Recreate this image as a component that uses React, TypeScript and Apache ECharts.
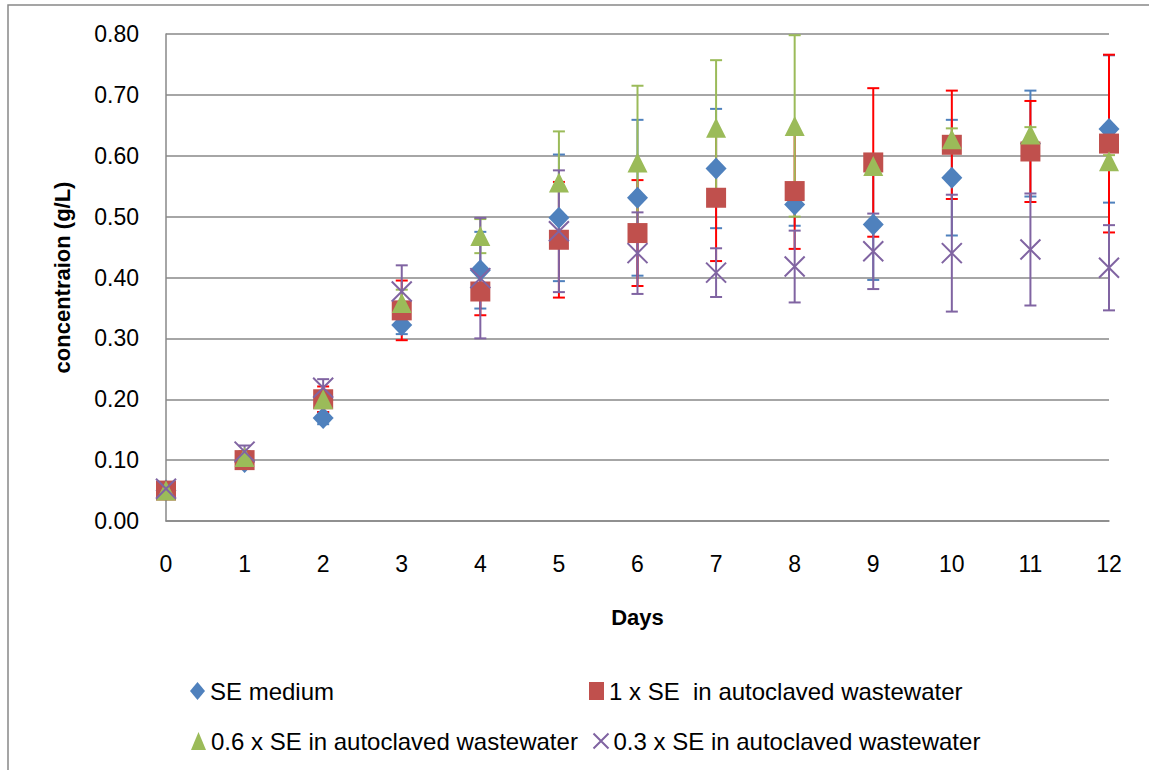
import React, { useEffect, useRef } from "react";
import * as echarts from "echarts";

const days = [0, 1, 2, 3, 4, 5, 6, 7, 8, 9, 10, 11, 12];
const yTicks = [0, 0.1, 0.2, 0.3, 0.4, 0.5, 0.6, 0.7, 0.8];

const seriesNames = [
  "SE medium",
  "1 x SE  in autoclaved wastewater",
  "0.6 x SE in autoclaved wastewater",
  "0.3 x SE in autoclaved wastewater",
];

const seMedium = [0.05, 0.097, 0.169, 0.322, 0.412, 0.498, 0.531, 0.579, 0.52, 0.487, 0.564, 0.62, 0.644];
const seMediumErr = [0.005, 0.01, 0.01, 0.015, 0.063, 0.104, 0.128, 0.098, 0.035, 0.091, 0.095, 0.087, 0.121];

const se1x = [0.05, 0.1, 0.2, 0.346, 0.377, 0.462, 0.473, 0.531, 0.542, 0.589, 0.618, 0.607, 0.62];
const se1xErr = [0.005, 0.01, 0.021, 0.049, 0.039, 0.095, 0.087, 0.104, 0.095, 0.122, 0.089, 0.083, 0.146];

const se06x = [0.05, 0.105, 0.2, 0.358, 0.468, 0.556, 0.589, 0.646, 0.649, 0.583, 0.627, 0.635, 0.591];
const se06xErr = [0.005, 0.01, 0.01, 0.022, 0.028, 0.084, 0.126, 0.111, 0.149, 0.01, 0.018, 0.012, 0.01];

const se03x = [0.053, 0.114, 0.219, 0.377, 0.399, 0.476, 0.44, 0.408, 0.418, 0.443, 0.44, 0.446, 0.416];
const se03xErr = [0.005, 0.01, 0.014, 0.043, 0.099, 0.1, 0.067, 0.04, 0.059, 0.062, 0.096, 0.092, 0.07];

const values = [seMedium, se1x, se06x, se03x];
const errors = [seMediumErr, se1xErr, se06xErr, se03xErr];
const markerColors = ["#4F81BD", "#C0504D", "#9BBB59", "#8064A2"];
const errColors = ["#4F81BD", "#FF0000", "#9BBB59", "#8064A2"];
const FONT = "Liberation Sans";
const CROSS = "path://M0,0L10,10M10,0L0,10";

export default function App() {
  const ref = useRef<HTMLDivElement>(null);
  useEffect(() => {
    if (!ref.current) return;
    const chart = echarts.init(ref.current, null, { renderer: "svg" });

    const errSeries = values.map((vals, si) => ({
      type: "custom",
      name: "err" + si,
      z: 2,
      silent: true,
      data: days.map((d, i) => [d, vals[i] - errors[si][i], vals[i] + errors[si][i]]),
      encode: { x: 0, y: [1, 2] },
      renderItem: (params: any, api: any) => {
        const x = api.value(0);
        const lo = api.coord([x, api.value(1)]);
        const hi = api.coord([x, api.value(2)]);
        const w = 6;
        const st = { stroke: errColors[si], lineWidth: 2 };
        return {
          type: "group",
          children: [
            { type: "line", shape: { x1: hi[0], y1: hi[1], x2: lo[0], y2: lo[1] }, style: st },
            { type: "line", shape: { x1: hi[0] - w, y1: hi[1], x2: hi[0] + w, y2: hi[1] }, style: st },
            { type: "line", shape: { x1: lo[0] - w, y1: lo[1], x2: lo[0] + w, y2: lo[1] }, style: st },
          ],
        };
      },
    }));

    const symbols = ["diamond", "rect", "triangle", CROSS];
    const sizes: any[] = [[21, 22], 20, 20, 20];
    const markerSeries = values.map((vals, si) => ({
      type: "scatter",
      name: seriesNames[si],
      z: 3,
      symbol: symbols[si],
      symbolSize: sizes[si],
      data: days.map((d, i) => [d, vals[i]]),
      itemStyle:
        si === 3
          ? { color: "none", borderColor: markerColors[si], borderWidth: 2, opacity: 1 }
          : { color: markerColors[si], opacity: 1 },
    }));

    const legendPos = [
      [190, 679],
      [589, 679],
      [191, 729],
      [591, 729],
    ];
    const legend = seriesNames.map((n, si) => ({
      left: legendPos[si][0],
      top: legendPos[si][1],
      padding: 0,
      selectedMode: false,
      itemWidth: 15,
      itemHeight: 18,
      textStyle: { fontFamily: FONT, fontSize: 24, color: "#000" },
      data: [
        si === 3
          ? { name: n, icon: CROSS, itemStyle: { color: "none", borderColor: markerColors[si], borderWidth: 2 } }
          : { name: n, icon: symbols[si] },
      ],
    }));

    chart.setOption({
      animation: false,
      backgroundColor: "#fff",
      textStyle: { fontFamily: FONT },
      grid: { left: 166, right: 40, top: 34, bottom: 249 },
      legend,
      graphic: [
        {
          type: "rect",
          shape: { x: 8, y: 5, width: 1200, height: 800 },
          style: { fill: "none", stroke: "#888", lineWidth: 1.5 },
          silent: true,
        },
      ],
      xAxis: {
        type: "value",
        min: 0,
        max: 12,
        interval: 1,
        name: "Days",
        nameLocation: "middle",
        nameGap: 85,
        nameTextStyle: { fontFamily: FONT, fontSize: 22, fontWeight: "bold", color: "#000" },
        axisLine: { show: true, lineStyle: { color: "#888", width: 1.5 } },
        axisTick: { show: false },
        splitLine: { show: false },
        axisLabel: { fontFamily: FONT, fontSize: 23, color: "#000", margin: 31 },
      },
      yAxis: {
        type: "value",
        min: yTicks[0],
        max: yTicks[yTicks.length - 1],
        interval: 0.1,
        name: "concentraion (g/L)",
        nameLocation: "middle",
        nameGap: 93,
        nameTextStyle: { fontFamily: FONT, fontSize: 22, fontWeight: "bold", color: "#000" },
        axisLine: { show: true, lineStyle: { color: "#888", width: 1.5 } },
        axisTick: { show: false },
        splitLine: { show: true, lineStyle: { color: "#888", width: 1.5 } },
        axisLabel: {
          fontFamily: FONT,
          fontSize: 23,
          color: "#000",
          margin: 27,
          formatter: (v: number) => v.toFixed(2),
        },
      },
      series: [...errSeries, ...markerSeries],
    });
    return () => chart.dispose();
  }, []);
  return (
    <div
      ref={ref}
      style={{ position: "fixed", left: 0, top: 0, width: 1149, height: 770 }}
    />
  );
}
